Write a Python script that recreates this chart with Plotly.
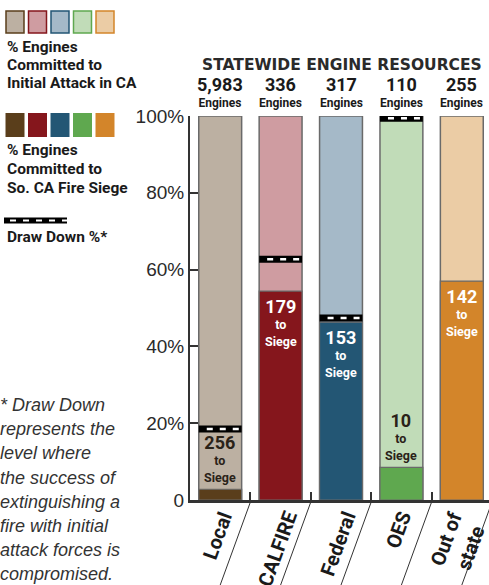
import plotly.graph_objects as go

# ---------------- data ----------------
categories = ["Local", "CALFIRE", "Federal", "OES", "Out of<br>state"]
total_engines = ["5,983", "336", "317", "110", "255"]
engines_to_siege = [256, 179, 153, 10, 142]
siege_pct = [2.8, 54.4, 46.3, 8.5, 57.0]
drawdown_pct = [18.5, 62.7, 47.4, 99.4, None]
full_pct = [100, 100, 100, 100, 100]
light_colors = ["#bcb0a2", "#cf9ca1", "#a5b9c8", "#c1dcb8", "#ebcca5"]
dark_colors = ["#5a3e1b", "#85161c", "#235674", "#5fa84f", "#d3852a"]
y_tick_vals = [0, 20, 40, 60, 80, 100]
y_tick_text = ["0", "20%", "40%", "60%", "80%", "100%"]
siege_text_dark = [True, False, False, True, False]
footnote_lines = ["* Draw Down", "represents the", "level where", "the success of",
                  "extinguishing a", "fire with initial", "attack forces is", "compromised."]

# ---------------- layout constants ----------------
W, H = 489, 585
ML, MR, MT, MB = 190, 0, 116, 85
PW, PH = W - ML - MR, H - MT - MB
BAR_W = 0.71
COND = "Roboto, Liberation Sans, sans-serif"
REG = "Liberation Sans, Arial, sans-serif"


def px(x):
    return (x - ML) / PW


def py(y):
    return (H - MB - y) / PH


xs = list(range(len(categories)))

fig = go.Figure()
fig.add_bar(x=xs, y=full_pct, width=BAR_W, marker_color=light_colors,
            marker_line=dict(color="#6a6a6a", width=1.5), hoverinfo="skip")
fig.add_bar(x=xs, y=siege_pct, width=BAR_W, marker_color=dark_colors,
            marker_line=dict(color="#6a6a6a", width=1.2), hoverinfo="skip")

dash_off = 8 / (PW / 4.95)
for i, dd in enumerate(drawdown_pct):
    if dd is None:
        continue
    fig.add_scatter(x=[i - BAR_W / 2, i + BAR_W / 2], y=[dd, dd], mode="lines",
                    line=dict(color="black", width=7), cliponaxis=False, hoverinfo="skip")
    fig.add_scatter(x=[i - BAR_W / 2 + dash_off, i + BAR_W / 2], y=[dd, dd], mode="lines",
                    line=dict(color="white", width=2.5, dash="6px,7px"), cliponaxis=False,
                    hoverinfo="skip")

ann = []
# counts above bars
for i, t in enumerate(total_engines):
    ann.append(dict(x=i, y=1, xref="x", yref="paper", yanchor="bottom", xanchor="center",
                    yshift=4, showarrow=False,
                    text=f"<span style='font-size:18px'><b>{t}</b></span><br><b>Engines</b>",
                    font=dict(family=COND, size=12, color="#1a1a1a")))
# in-bar siege labels
for i, n in enumerate(engines_to_siege):
    dark = siege_text_dark[i]
    ann.append(dict(x=i, y=siege_pct[i], xref="x", yref="y",
                    yanchor="bottom" if dark else "top", xanchor="center",
                    yshift=2 if dark else -3, showarrow=False,
                    text=f"<span style='font-size:18px'><b>{n}</b></span><br><b>to</b><br><b>Siege</b>",
                    font=dict(family=COND, size=12.5, color="#2a2218" if dark else "white")))
# x category labels
for i, c in enumerate(categories):
    ann.append(dict(x=i, y=0, xref="x", yref="paper", yanchor="top", xanchor="center",
                    yshift=-6, xshift=-3, showarrow=False, textangle=-70,
                    text=f"<b>{c}</b>",
                    font=dict(family=COND, size=20, color="#1a1a1a")))
# title
ann.append(dict(x=px(342), y=py(65), xref="paper", yref="paper", xanchor="center",
                yanchor="middle", showarrow=False, text="<b>STATEWIDE ENGINE RESOURCES</b>",
                font=dict(family="DejaVu Sans, sans-serif", size=15.5, color="#2a2a2a")))
# legend texts
leg1 = ["% Engines", "Committed to", "Initial Attack in CA"]
leg2 = ["% Engines", "Committed to", "So. CA Fire Siege"]
for k, t in enumerate(leg1):
    ann.append(dict(x=px(5), y=py(47 + 18 * k), xref="paper", yref="paper", xanchor="left",
                    yanchor="middle", showarrow=False, text=f"<b>{t}</b>",
                    font=dict(family=COND, size=15.5, color="#1a1a1a")))
for k, t in enumerate(leg2):
    ann.append(dict(x=px(5), y=py(150 + 19 * k), xref="paper", yref="paper", xanchor="left",
                    yanchor="middle", showarrow=False, text=f"<b>{t}</b>",
                    font=dict(family=COND, size=15.5, color="#1a1a1a")))
ann.append(dict(x=px(5), y=py(237), xref="paper", yref="paper", xanchor="left",
                yanchor="middle", showarrow=False, text="<b>Draw Down %*</b>",
                font=dict(family=COND, size=15.5, color="#1a1a1a")))
# footnote
for k, t in enumerate(footnote_lines):
    ann.append(dict(x=px(-2), y=py(405 + 24.2 * k), xref="paper", yref="paper", xanchor="left",
                    yanchor="middle", showarrow=False, text=f"<i>{t}</i>",
                    font=dict(family=REG, size=18, color="#333")))

shapes = []
# separators under the axis
for i in xs:
    shapes.append(dict(type="line", xref="x", yref="paper", x0=i + 0.5, y0=py(502),
                       x1=i + 0.5 - 0.5 * (90 / 83), y1=py(592),
                       line=dict(color="#333", width=1)))
# legend squares
sq_x = [6, 28.5, 51, 73.5, 96]
for k in range(5):
    shapes.append(dict(type="rect", xref="paper", yref="paper", x0=px(sq_x[k]), x1=px(sq_x[k] + 18),
                       y0=py(33), y1=py(11), fillcolor=light_colors[k],
                       line=dict(color=dark_colors[k], width=1.5)))
    shapes.append(dict(type="rect", xref="paper", yref="paper", x0=px(sq_x[k] - 0.5), x1=px(sq_x[k] + 18.5),
                       y0=py(137), y1=py(113), fillcolor=dark_colors[k],
                       line=dict(color=dark_colors[k], width=0)))
shapes.append(dict(type="line", xref="paper", yref="paper", x0=px(4), x1=px(67), y0=py(220.5),
                   y1=py(220.5), line=dict(color="black", width=6)))
shapes.append(dict(type="line", xref="paper", yref="paper", x0=px(10), x1=px(67), y0=py(220.5),
                   y1=py(220.5), line=dict(color="white", width=2, dash="6px,7px")))

fig.update_layout(
    width=W, height=H, autosize=False,
    margin=dict(l=ML, r=MR, t=MT, b=MB, pad=0),
    paper_bgcolor="white", plot_bgcolor="white",
    barmode="overlay", showlegend=False,
    xaxis=dict(range=[-0.5, 4.45], tickvals=[i + 0.5 for i in xs], showticklabels=False,
               ticks="inside", ticklen=8, tickwidth=2, tickcolor="#333",
               showline=True, linecolor="#333", linewidth=2.5, showgrid=False, zeroline=False,
               fixedrange=True),
    yaxis=dict(range=[0, 100], tickvals=y_tick_vals, ticktext=y_tick_text,
               ticks="inside", ticklen=8, tickwidth=2, tickcolor="#333",
               showline=True, linecolor="#333", linewidth=2, showgrid=False, zeroline=False,
               tickfont=dict(family=REG, size=19, color="#2a2a2a"), fixedrange=True),
    annotations=ann, shapes=shapes,
)

fig.write_html("out.html", config={"displayModeBar": False},
               post_script="document.body.style.margin='0px';document.body.style.overflow='hidden';")
